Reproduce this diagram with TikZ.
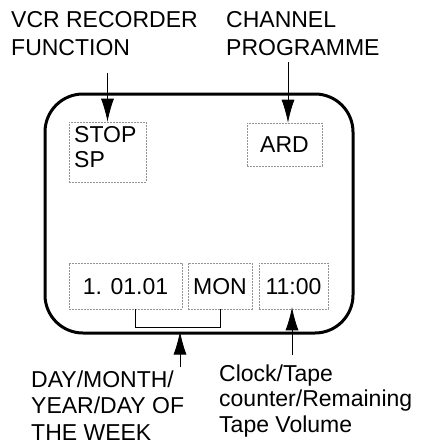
\documentclass[tikz,border=0pt]{standalone}
\usepackage{fontspec}
\setmainfont{Liberation Sans}
\usetikzlibrary{arrows.meta,calc}
\newcommand{\mylines}[1]{\begin{tabular}[t]{@{}l@{}}#1\end{tabular}}
\begin{document}
\begin{tikzpicture}[x=1pt,y=-1pt,
  screen/.style={draw, line width=3pt, rounded corners=38pt, inner sep=0pt},
  dbox/.style={draw=gray!85, line width=0.6pt, dash pattern=on 2pt off 1pt, inner sep=0pt,
     font=\fontsize{23}{25}\selectfont, text height=16pt, text depth=0pt},
  lbl/.style={anchor=base west, inner sep=0pt},
  ptr/.style={line width=0.8pt, -{Latex[length=23pt,width=13pt]}},
  brk/.style={line width=0.8pt}
]
\useasboundingbox (0,0) rectangle (424,445);
% screen
\node[screen, minimum width=308pt, minimum height=239pt] (scr) at (199,213.5) {};
% boxes
\node[dbox, minimum width=77pt, minimum height=60pt] (fbox) at (107.5,152) {};
\node[lbl, font=\fontsize{23}{25}\selectfont] (ftxt) at (74,142) {\mylines{STOP\\SP}};
\node[dbox, minimum width=75pt, minimum height=43pt] (ard) at (284.5,144.5) {ARD};
\node[dbox, minimum width=113pt, minimum height=46pt] (date) at (125.5,286) {1. 01.01};
\node[dbox, minimum width=64pt, minimum height=46pt] (mon) at (220,286) {MON};
\node[dbox, minimum width=69pt, minimum height=46pt] (clk) at (293.5,286) {11:00};
% labels
\node[lbl, font=\fontsize{23}{28}\selectfont] (vcr) at (11,27) {\mylines{VCR RECORDER\\FUNCTION}};
\node[lbl, font=\fontsize{23}{28}\selectfont] (chan) at (226,27) {\mylines{CHANNEL\\PROGRAMME}};
\node[lbl, font=\fontsize{23}{26.5}\selectfont, text depth=0pt] (day) at (31,387) {\mylines{DAY/MONTH/\\YEAR/DAY OF\\THE WEEK}};
\node[lbl, font=\fontsize{23}{25.5}\selectfont] (clock) at (219,381) {\mylines{Clock/Tape\\counter/Remaining\\Tape Volume}};
% connectors
\coordinate (vcrend) at (107.5,73);
\coordinate (chanend) at (288,62);
\coordinate (dayend) at (180,367);
\coordinate (clkend) at (292,355);
\coordinate (brkl) at (135,309);
\coordinate (brkb) at (135,327);
\draw[ptr] (vcrend) -- (fbox.north);
\draw[ptr] (chanend) -- (ard.north -| chanend);
\draw[ptr] (dayend) -- ($(scr.south -| dayend)+(0,-3)$);
\draw[ptr] (clkend) -- ($(clk.south -| clkend)+(0,-2)$);
\draw[brk] (date.south -| brkl) -- (brkb) -| (mon.south);
\end{tikzpicture}
\end{document}
